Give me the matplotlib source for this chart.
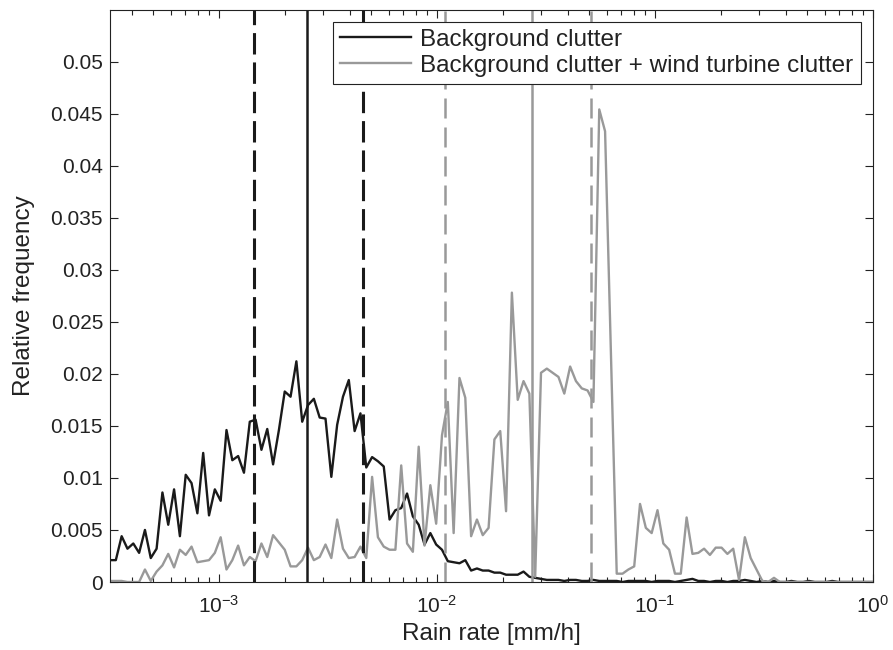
import numpy as np
import matplotlib
matplotlib.use('Agg')
import matplotlib.pyplot as plt
from matplotlib.ticker import LogLocator, FixedLocator, FuncFormatter

plt.rcParams['font.family'] = ['Liberation Sans', 'DejaVu Sans']
plt.rcParams['mathtext.fontset'] = 'custom'
plt.rcParams['mathtext.rm'] = 'Liberation Sans'

# histogram bin centres, log spaced from 10^-3.5 to 10^0 mm/h
rain_rate = np.logspace(-3.5, 0, 132)

# relative frequency, background clutter only
background = [
    0.0021, 0.0021, 0.0044, 0.0032, 0.0037, 0.0028, 0.0050, 0.0023, 0.0032, 0.0086,
    0.0055, 0.0089, 0.0044, 0.0103, 0.0095, 0.0066, 0.0124, 0.0064, 0.0089, 0.0078,
    0.0146, 0.0117, 0.0121, 0.0105, 0.0154, 0.0156, 0.0127, 0.0147, 0.0113, 0.0146,
    0.0183, 0.0178, 0.0212, 0.0154, 0.0170, 0.0176, 0.0158, 0.0157, 0.0101, 0.0151,
    0.0178, 0.0194, 0.0145, 0.0162, 0.0110, 0.0120, 0.0116, 0.0111, 0.0060, 0.0069,
    0.0071, 0.0085, 0.0063, 0.0055, 0.0036, 0.0047, 0.0036, 0.0031, 0.0020, 0.0019,
    0.0018, 0.0021, 0.0011, 0.0013, 0.0011, 0.0011, 0.0009, 0.0009, 0.0007, 0.0007,
    0.0007, 0.0010, 0.0005, 0.0004, 0.0003, 0.0002, 0.0002, 0.0002, 0.0001, 0.0002,
    0.0002, 0.0001, 0.0001, 0.0002, 0.0001, 0.0001, 0.0001, 0.0001, 0.0000, 0.0001,
    0.0001, 0.0001, 0.0001, 0.0000, 0.0001, 0.0001, 0.0001, 0.0000, 0.0001, 0.0002,
    0.0003, 0.0001, 0.0001, 0.0000, 0.0001, 0.0001, 0.0000, 0.0001, 0.0001, 0.0002,
    0.0001, 0.0000, 0.0001, 0.0000, 0.0001, 0.0000, 0.0000, 0.0001, 0.0000, 0.0000,
    0.0001, 0.0000, 0.0000, 0.0000, 0.0001, 0.0000, 0.0000, 0.0000, 0.0000, 0.0000,
    0.0000, 0.0000,
]

# relative frequency, background + wind turbine clutter
with_turbine = [
    0.0001, 0.0001, 0.0001, 0.0000, 0.0000, 0.0000, 0.0012, 0.0001, 0.0010, 0.0016,
    0.0027, 0.0014, 0.0031, 0.0026, 0.0034, 0.0019, 0.0020, 0.0021, 0.0028, 0.0043,
    0.0012, 0.0021, 0.0035, 0.0016, 0.0024, 0.0020, 0.0037, 0.0024, 0.0045, 0.0038,
    0.0031, 0.0015, 0.0015, 0.0021, 0.0033, 0.0021, 0.0024, 0.0036, 0.0023, 0.0060,
    0.0032, 0.0023, 0.0024, 0.0034, 0.0023, 0.0101, 0.0043, 0.0034, 0.0031, 0.0031,
    0.0112, 0.0037, 0.0029, 0.0130, 0.0035, 0.0093, 0.0056, 0.0141, 0.0173, 0.0047,
    0.0196, 0.0177, 0.0044, 0.0060, 0.0045, 0.0052, 0.0137, 0.0145, 0.0068, 0.0278,
    0.0175, 0.0193, 0.0181, 0.0005, 0.0201, 0.0205, 0.0201, 0.0197, 0.0181, 0.0207,
    0.0193, 0.0186, 0.0184, 0.0173, 0.0454, 0.0433, 0.0220, 0.0008, 0.0008, 0.0012,
    0.0015, 0.0075, 0.0052, 0.0047, 0.0069, 0.0037, 0.0031, 0.0008, 0.0008, 0.0062,
    0.0027, 0.0028, 0.0032, 0.0026, 0.0033, 0.0033, 0.0027, 0.0032, 0.0002, 0.0043,
    0.0023, 0.0012, 0.0001, 0.0000, 0.0004, 0.0000, 0.0000, 0.0000, 0.0000, 0.0000,
    0.0000, 0.0000, 0.0000, 0.0000, 0.0000, 0.0000, 0.0000, 0.0000, 0.0000, 0.0000,
    0.0000, 0.0000,
]

# markers: 25th percentile, median, 75th percentile
bg_quartiles = [1.44e-3, 2.52e-3, 4.60e-3]
wt_quartiles = [1.088e-2, 2.74e-2, 5.08e-2]

black = '#1a1a1a'
grey = '#999999'

fig = plt.figure(figsize=(8.93, 6.5), dpi=100)
ax = fig.add_axes([110 / 893, 68 / 650, 763 / 893, 572.5 / 650])

ax.plot(rain_rate, background, color=black, lw=1.7, label='Background clutter')
ax.plot(rain_rate, with_turbine, color=grey, lw=1.7,
        label='Background clutter + wind turbine clutter')

ax.axvline(bg_quartiles[0], color=black, lw=2.2, ls=(0, (7, 2.6)))
ax.axvline(bg_quartiles[1], color=black, lw=1.8)
ax.axvline(bg_quartiles[2], color=black, lw=2.2, ls=(0, (7, 2.6)))
ax.axvline(wt_quartiles[0], color=grey, lw=1.8, ls=(0, (8, 3.6)))
ax.axvline(wt_quartiles[1], color=grey, lw=1.8)
ax.axvline(wt_quartiles[2], color=grey, lw=1.8, ls=(0, (8, 3.6)))

ax.set_xscale('log')
ax.set_xlim(10 ** -3.5, 1)
ax.set_ylim(0, 0.055)
ax.xaxis.set_major_locator(LogLocator(base=10, numticks=10))
ax.xaxis.set_minor_locator(LogLocator(base=10, subs=np.arange(2, 10), numticks=20))
ax.yaxis.set_major_locator(FixedLocator(np.arange(0, 0.0501, 0.005)))
ax.yaxis.set_major_formatter(FuncFormatter(lambda v, p: '%g' % round(v, 4)))

ax.tick_params(which='both', direction='in', top=True, right=True, colors='#222222')
ax.tick_params(which='major', length=6, width=0.8, labelsize=15)
ax.tick_params(which='minor', length=3.5, width=0.8)
ax.tick_params(axis='x', pad=9)
ax.tick_params(axis='y', pad=5)
for sp in ax.spines.values():
    sp.set_linewidth(0.8)
    sp.set_color('#222222')

ax.set_xlabel('Rain rate [mm/h]', fontsize=17.5, color='#222222')
ax.set_ylabel('Relative frequency', fontsize=17.5, color='#222222')
ax.xaxis.set_label_coords(0.5, -0.072)
ax.yaxis.set_label_coords(-0.098, 0.5)

leg = ax.legend(loc='upper right', fontsize=17.5, frameon=True, fancybox=False,
                edgecolor='#222222', framealpha=1, handlelength=2.9,
                handletextpad=0.4, labelspacing=0.15, borderpad=0.3,
                borderaxespad=0.5)
leg.get_frame().set_linewidth(0.8)
for t in leg.get_texts():
    t.set_color('#222222')

fig.savefig('out.png', dpi=100)
